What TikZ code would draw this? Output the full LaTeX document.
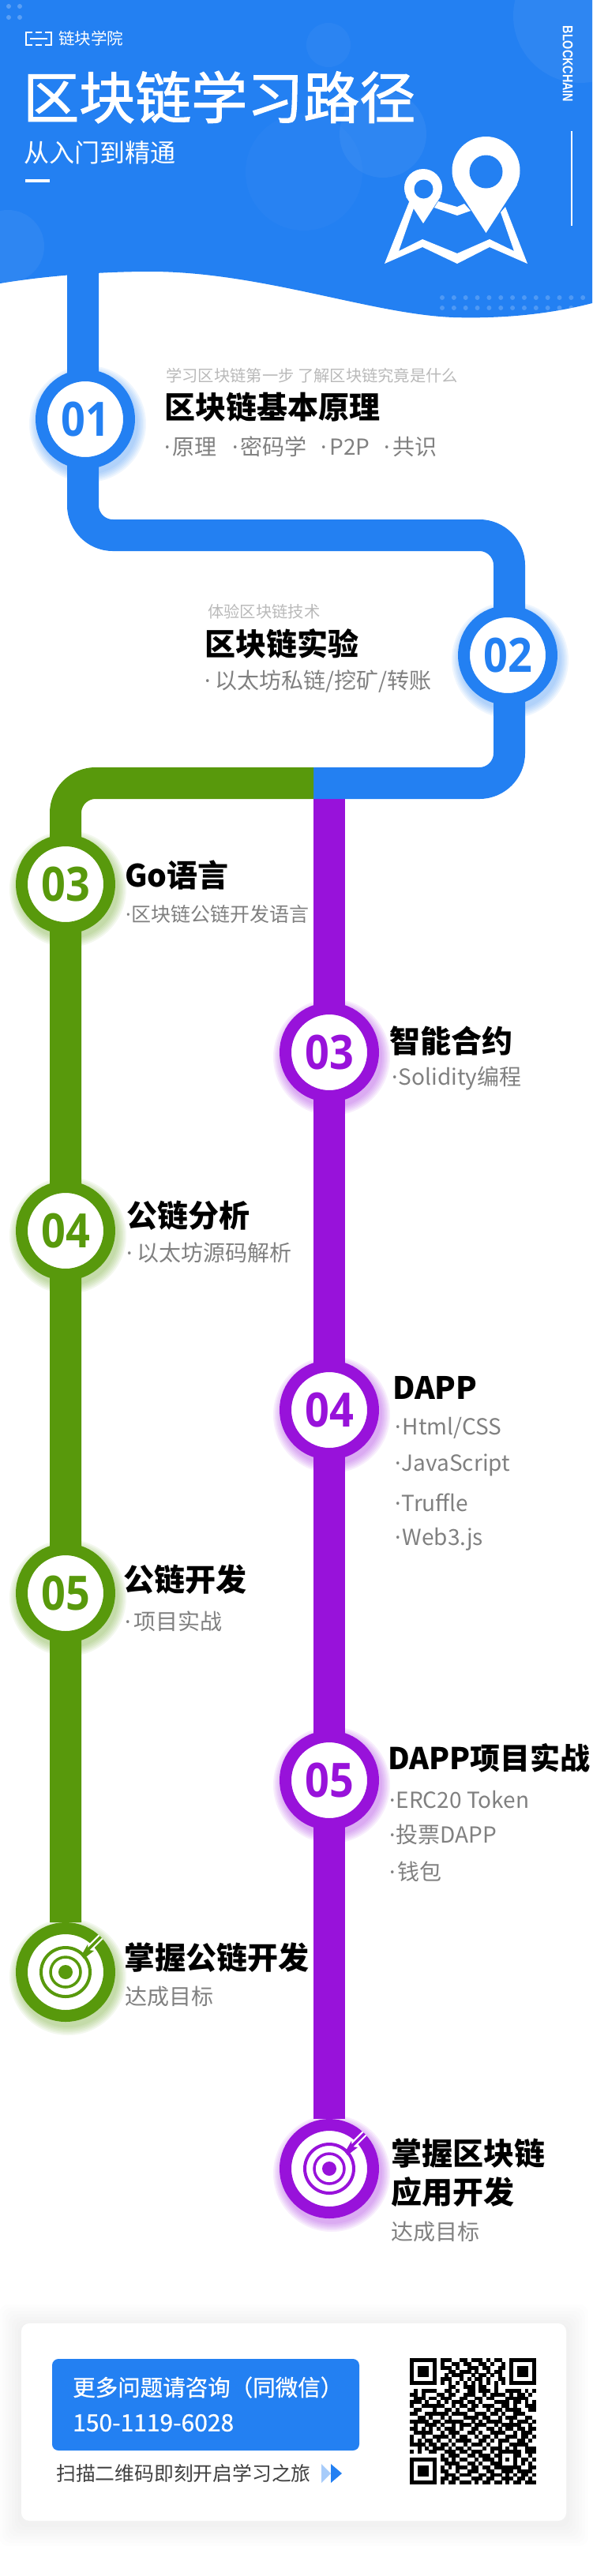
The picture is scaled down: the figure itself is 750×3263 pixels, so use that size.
\documentclass[tikz,border=0pt]{standalone}
\usepackage{fontspec}
\usetikzlibrary{backgrounds,calc}
\setmainfont{Noto Sans CJK SC}
\newfontfamily\midfont[FakeBold=1.6]{Noto Sans CJK SC}
\newfontfamily\boxfont[FakeBold=.7]{Noto Sans CJK SC}
\newfontfamily\numfont[FakeStretch=.9]{Open Sans}
\newfontfamily\capsfont[FakeStretch=.8]{Liberation Sans}
\newfontfamily\dotfont{Noto Sans}
\definecolor{chainblue}{HTML}{2380F2}
\definecolor{chaingreen}{HTML}{58990C}
\definecolor{chainpurple}{HTML}{9812DA}
\definecolor{softblue}{HTML}{A7CCFA}
\definecolor{notegray}{HTML}{B9B9B9}
\definecolor{itemgray}{HTML}{808080}
\tikzset{
  track/.style={line width=40pt, draw=#1, rounded corners=38pt},
  stopnode/.style={circle, draw=#1, fill=white, line width=15pt, minimum size=111pt, inner sep=0pt, text=#1,
    font=\numfont\bfseries\fontsize{60}{60}\selectfont},
  stoptitle/.style={anchor=west, inner sep=0pt, text=black, font=\bfseries\fontsize{39}{49}\selectfont},
  stopitem/.style={anchor=west, inner sep=0pt, text=itemgray, font=\fontsize{28}{28}\selectfont},
  stopnote/.style={anchor=west, inner sep=0pt, text=notegray, font=\fontsize{20.3}{20.3}\selectfont},
  boxtext/.style={anchor=west, inner sep=0pt, text=white, font=\boxfont\fontsize{28.5}{28.5}\selectfont},
}
\newcommand\DOT[1]{{\dotfont ·}\hspace{#1pt}}
\newcommand\GLOW[2]{\foreach \r in {74,72,...,64} \fill[#2, opacity=.07] ([xshift=3pt,yshift=-6pt]#1.center) circle (\r);}
\newcommand\GOAL[2]{%
  \draw[#2, line width=4pt] (#1) circle (31);
  \draw[#2, line width=3.5pt] (#1) circle (19);
  \fill[#2] (#1) circle (9);
  \draw[white, line width=8pt] (#1) -- ++(32,-32);
  \draw[#2, line width=3.5pt] (#1) -- ++(26,-26);
  \fill[#2] ($(#1)+(20,-21)$) -- ($(#1)+(28,-35)$) -- ($(#1)+(29,-28)$) -- ($(#1)+(36,-27)$) -- ($(#1)+(23,-17)$) -- cycle;
}
\newcount\qrcol
\def\qrwalk#1{\ifx#1.\else\ifx#11\fill[black] (519+4.85*\the\qrcol, 2987+4.85*\qrrow) rectangle ++(4.95,4.95);\fi\global\advance\qrcol by 1 \expandafter\qrwalk\fi}

\begin{document}
\begin{tikzpicture}[x=1pt, y=-1pt]

  \useasboundingbox (0,0) rectangle (750,3263);

  \coordinate (headtop) at (105,300);
  \coordinate (bendA) at (105,678);
  \coordinate (bendB) at (645,678);
  \coordinate (bendC) at (645,992);
  \coordinate (split) at (397,992);
  \coordinate (bendD) at (83,992);
  \coordinate (purpletop) at (417,992);

  \node[stopnode=chainblue] (n01) at (108,531) {01};
  \node[stopnode=chainblue] (n02) at (643,830) {02};

  \node[stopnode=chaingreen] (g03) at (83,1120) {03};
  \node[stopnode=chaingreen] (g04) at (83,1559) {04};
  \node[stopnode=chaingreen] (g05) at (83,2018) {05};
  \node[stopnode=chaingreen] (g06) at (83,2498) {};

  \node[stopnode=chainpurple] (p03) at (417,1333) {03};
  \node[stopnode=chainpurple] (p04) at (417,1786) {04};
  \node[stopnode=chainpurple] (p05) at (417,2255) {05};
  \node[stopnode=chainpurple] (p06) at (417,2747) {};

  \begin{pgfonlayer}{background}
    %% header with its wave
    \fill[chainblue] (0,0) -- (750,0) -- (750,384) .. controls (700,397) and (640,404) .. (574,402)
      .. controls (470,398) and (330,344) .. (190,344) .. controls (130,344) and (60,349) .. (0,359) -- cycle;
    \begin{scope}
      \clip (0,0) -- (750,0) -- (750,384) .. controls (700,397) and (640,404) .. (574,402)
        .. controls (470,398) and (330,344) .. (190,344) .. controls (130,344) and (60,349) .. (0,359) -- cycle;
      \fill[white, opacity=.05] (735,20) circle (85);
      \fill[white, opacity=.04] (416,57) circle (28);
      \fill[white, opacity=.05] (485,170) circle (55);
      \fill[white, opacity=.025] (385,218) circle (74);
      \fill[white, opacity=.05] (10,312) circle (46);
      \foreach \x in {11,25} \foreach \y in {8,22} \fill[white, opacity=.25] (\x,\y) circle (3);
      \foreach \i in {0,...,12} {
        \fill[white, opacity=.2] (560+14.85*\i,377) circle (3);
        \fill[white, opacity=.2] (560+14.85*\i,390) circle (3);
      }
    \end{scope}

    \draw[track=chainpurple] (purpletop) -- (p06);
    \draw[track=chainblue] (headtop) -- (bendA) -- (bendB) -- (bendC) -- (split); %% 01->02
    \draw[track=chaingreen] (split) -- (bendD) -- (g06); %% 03->goal

    \GLOW{n01}{chainblue}
    \GLOW{n02}{chainblue}
    \foreach \n in {g03,g04,g05,g06} {\GLOW{\n}{chaingreen}}
    \foreach \n in {p03,p04,p05,p06} {\GLOW{\n}{chainpurple}}
  \end{pgfonlayer}

  %% header
  \draw[white, line width=2pt] (41,41) -- (33,41) -- (33,57) -- (41,57);
  \draw[white, line width=2pt] (57,41) -- (65,41) -- (65,57) -- (57,57);
  \draw[white, line width=2pt] (38,49) -- (60,49);
  \draw[white, line width=2pt] (45,41) -- (53,41);
  \draw[white, line width=2pt] (45,57) -- (53,57);
  \node[anchor=west, inner sep=0pt, text=white, font=\fontsize{20.5}{20.5}\selectfont] (brand) at (74,49) {链块学院};
  \node[anchor=west, inner sep=0pt, text=white, font=\midfont\fontsize{71}{71}\selectfont] (title) at (29,123) {区块链学习路径};
  \node[anchor=west, inner sep=0pt, text=white, font=\fontsize{32}{32}\selectfont] (subtitle) at (30,193) {从入门到精通};
  \fill[white] (32,227) rectangle (63,231);
  \node[rotate=-90, inner sep=0pt, text=white, font=\capsfont\bfseries\fontsize{18}{18}\selectfont] (caps) at (719,81) {BLOCKCHAIN};
  \draw[white, line width=1.5pt] (724,166) -- (724,286);

  %% map icon
  \fill[white] (487,334) -- (518,256) -- (526,258) -- (505,318) -- (535,303) -- (579,321) -- (620,303) -- (651,318)
    -- (634,269) -- (640,262) -- (668,334) -- (620,313) -- (579,334) -- (535,313) -- cycle;
  \fill[white] (555,255) -- (579,262) -- (588,258) -- (596,267) -- (579,273) -- (550,263) -- cycle;
  \fill[white] (615.5,216) circle (43);
  \fill[white] (615.5,295) -- (576,234) -- (655,234) -- cycle;
  \fill[chainblue] (615.5,217.5) circle (21);
  \fill[white] (536,238) circle (24);
  \fill[white] (536,283) -- (514,249) -- (558,249) -- cycle;
  \fill[chainblue] (536.5,239.5) circle (12);

  %% blue stops
  \node[stopnote] (note01) at (210,476) {学习区块链第一步 了解区块链究竟是什么};
  \node[stoptitle] (head01) at (208,516) {区块链基本原理};
  \node[stopitem] (item01a) at (208,566) {\DOT{3}原理};
  \node[stopitem] (item01b) at (294,566) {\DOT{3}密码学};
  \node[stopitem] (item01c) at (406,566) {\DOT{4}P2P};
  \node[stopitem] (item01d) at (486,566) {\DOT{4}共识};

  \node[stopnote] (note02) at (263,775) {体验区块链技术};
  \node[stoptitle] (head02) at (259,815) {区块链实验};
  \node[stopitem] (item02) at (259,863) {\DOT{6}以太坊私链/挖矿/转账};

  %% green stops
  \node[stoptitle] (headg03) at (158,1108) {Go语言};
  \node[stopitem, font=\fontsize{25}{25}\selectfont] (itemg03) at (159,1158) {\DOT{1}区块链公链开发语言};
  \node[stoptitle] (headg04) at (160,1540) {公链分析};
  \node[stopitem] (itemg04) at (160,1587) {\DOT{6}以太坊源码解析};
  \node[stoptitle] (headg05) at (156,2001) {公链开发};
  \node[stopitem] (itemg05) at (158,2054) {\DOT{4}项目实战};
  \node[stoptitle] (headg06) at (157,2480) {掌握公链开发};
  \node[stopitem] (itemg06) at (158,2529) {达成目标};
  \GOAL{g06}{chaingreen}

  %% purple stops
  \node[stoptitle] (headp03) at (493,1318) {智能合约};
  \node[stopitem] (itemp03) at (496,1366) {\DOT{1}Solidity编程};
  \node[stoptitle] (headp04) at (497,1758) {DAPP};
  \node[stopitem] (itemp04a) at (500,1809) {\DOT{2}Html/CSS};
  \node[stopitem] (itemp04b) at (500,1856) {\DOT{1}JavaScript};
  \node[stopitem] (itemp04c) at (500,1903) {\DOT{1}Truffle};
  \node[stopitem] (itemp04d) at (500,1950) {\DOT{2}Web3.js};
  \node[stoptitle, font=\bfseries\fontsize{38}{38}\selectfont] (headp05) at (491,2227) {DAPP项目实战};
  \node[stopitem] (itemp05a) at (493,2280) {\DOT{1}ERC20 Token};
  \node[stopitem] (itemp05b) at (493,2324) {\DOT{1}投票DAPP};
  \node[stopitem] (itemp05c) at (493,2371) {\DOT{3}钱包};
  \node[stoptitle, align=left] (headp06) at (495,2752) {掌握区块链\\应用开发};
  \node[stopitem] (itemp06) at (495,2827) {达成目标};
  \GOAL{p06}{chainpurple}

  %% card at the bottom
  \node[rectangle, rounded corners=10pt, fill=white, minimum width=690pt, minimum height=250pt, inner sep=0pt] (card) at (372,3068) {};
  \begin{pgfonlayer}{background}
    \foreach \s in {4,8,...,28}
      \fill[black, opacity=.006, rounded corners=12pt] ([xshift=-\s pt,yshift=-\s pt-4pt]card.south west) rectangle ([xshift=\s pt,yshift=\s pt-4pt]card.north east);
  \end{pgfonlayer}
  \node[rectangle, rounded corners=8pt, fill=chainblue, minimum width=389pt, minimum height=116pt, inner sep=0pt] (askbox) at (260.5,3046) {};
  \node[boxtext] (asktext) at (92,3024) {更多问题请咨询（同微信）};
  \node[boxtext, font=\boxfont\fontsize{30}{30}\selectfont] (askphone) at (92,3069) {150-1119-6028};
  \node[anchor=west, inner sep=0pt, text=black!75, font=\fontsize{24.8}{24.8}\selectfont] (scan) at (71,3133) {扫描二维码即刻开启学习之旅};
  \fill[softblue] (407,3121) -- (419,3133) -- (407,3145) -- cycle;
  \fill[chainblue] (419,3121) -- (433,3133) -- (419,3145) -- cycle;

  %% qr code
  \foreach \qrline [count=\j from 0] in {
    111111101110011011101011001111111,
    100000101001101100110100101000001,
    101110101110100111011001101011101,
    101110100011011101001011001011101,
    101110100101110010110101001011101,
    100000101110010101101001101000001,
    111111101010101010101010101111111,
    000000000011001110110010000000000,
    010111100110100110111010011110101,
    110100011011001110010111101011010,
    011101101110011001101100011111100,
    111010010101110110100011110110101,
    100111111001011011011100110100111,
    011000100110100110001011011110011,
    110011111101111001110110100111000,
    001101001010001111011001011100110,
    111110110111110010101111001011101,
    010011101001011101110010111110010,
    110101010111010011001101011011011,
    011111001011100110100111100101110,
    100100111101011001011010011101101,
    101011010010111100110101110011010,
    111101101101001011101001001111100,
    001010111010110100010111010100111,
    101001100111011011100101111110111,
    000000001011100110111011000110010,
    111111101101011001011101010101101,
    100000100111100110100111000101010,
    101110101010111011011011111110011,
    101110101100100111001100111011110,
    101110100111011100110111010101101,
    100000101101100011101100111011010,
    111111101011011101011011010110111} {
    \global\qrcol=0
    \xdef\qrrow{\j}
    \edef\qrnext{\noexpand\qrwalk\qrline.}\qrnext
  }
\end{tikzpicture}
\end{document}
